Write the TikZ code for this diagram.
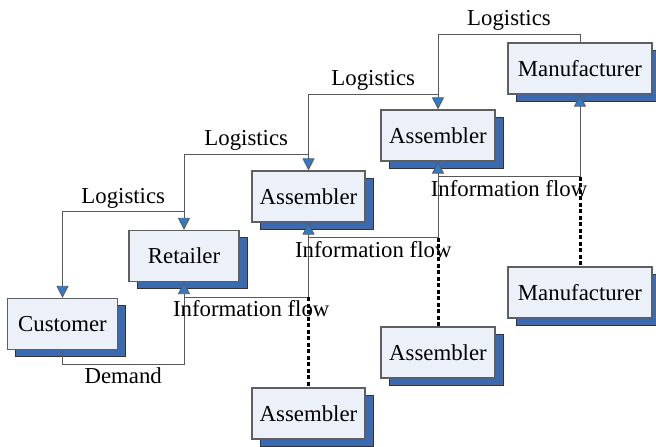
\documentclass[tikz,border=0pt]{standalone}
\usepackage{fontspec}
\setmainfont{Liberation Serif}
\usepackage{tikz}
\usetikzlibrary{positioning,arrows.meta,shadows}

\definecolor{boxfill}{RGB}{236,241,249}
\definecolor{boxline}{RGB}{95,95,95}
\definecolor{shadowblue}{RGB}{58,106,178}
\definecolor{tipblue}{RGB}{46,122,204}

\begin{document}
\begin{tikzpicture}[
    x=1pt, y=-1pt,
    every node/.style={font=\fontsize{22.8}{27}\selectfont},
    firm/.style={
        draw=boxline,
        line width=1.2pt,
        fill=boxfill,
        minimum height=51pt,
        inner sep=0pt,
        general shadow={shadow xshift=8pt, shadow yshift=-7pt,
            fill=shadowblue, draw=black!80, line width=0.8pt}
    },
    flow/.style={draw=black!65, line width=1pt},
    tip/.style={-{Triangle[length=12pt,width=12pt,fill=tipblue,line width=0.8pt]}},
    dotline/.style={draw=black, line width=3pt, dash pattern=on 4pt off 2.5pt},
    lbl/.style={inner sep=3pt}
]
\useasboundingbox (0,0) rectangle (656,447);

% firms
\node[firm, minimum width=110pt] (cust) at (62.5,324) {Customer};
\node[firm, minimum width=110pt] (ret) at (184,256) {Retailer};
\node[firm, minimum width=113pt] (asmA) at (308.5,196.5) {Assembler};
\node[firm, minimum width=114pt] (asmB) at (438,135.5) {Assembler};
\node[firm, minimum width=144pt] (manA) at (580,68.5) {Manufacturer};
\node[firm, minimum width=113pt] (asmC) at (308.5,413.5) {Assembler};
\node[firm, minimum width=114pt] (asmD) at (438,352.5) {Assembler};
\node[firm, minimum width=144pt] (manB) at (580,292.5) {Manufacturer};

% logistics
\draw[flow,tip] (manA.north) -- ++(0,-8) -| node[lbl,pos=.25,above] {Logistics} (asmB.north);
\draw[flow,tip] ([yshift=15pt]asmB.north) -| node[lbl,pos=.25,above] {Logistics} (asmA.north);
\draw[flow,tip] ([yshift=16pt]asmA.north) -| node[lbl,pos=.25,above] {Logistics} (ret.north);
\draw[flow,tip] ([yshift=18pt]ret.north) -| node[lbl,pos=.25,above] {Logistics} (cust.north);

% demand
\draw[flow,tip] (cust.south) -- ++(0,14) -| node[lbl,pos=.25,below] {Demand} (ret.south);

% information flow
\draw[flow,tip] ([yshift=-15pt]ret.south) -| coordinate[pos=.5] (k1)
    node[lbl,pos=.27,below] {Information flow} (asmA.south);
\draw[flow,tip] ([yshift=-15pt]asmA.south) -| coordinate[pos=.5] (k2)
    node[lbl,pos=.25,below] {Information flow} (asmB.south);
\draw[flow,tip] ([yshift=-15pt]asmB.south) -| coordinate[pos=.5] (k3)
    node[lbl,pos=.25,below] {Information flow} (manA.south);
\draw[dotline] (k1) -- (asmC.north);
\draw[dotline] (k2) -- (asmD.north);
\draw[dotline] (k3) -- (manB.north);
\end{tikzpicture}
\end{document}
